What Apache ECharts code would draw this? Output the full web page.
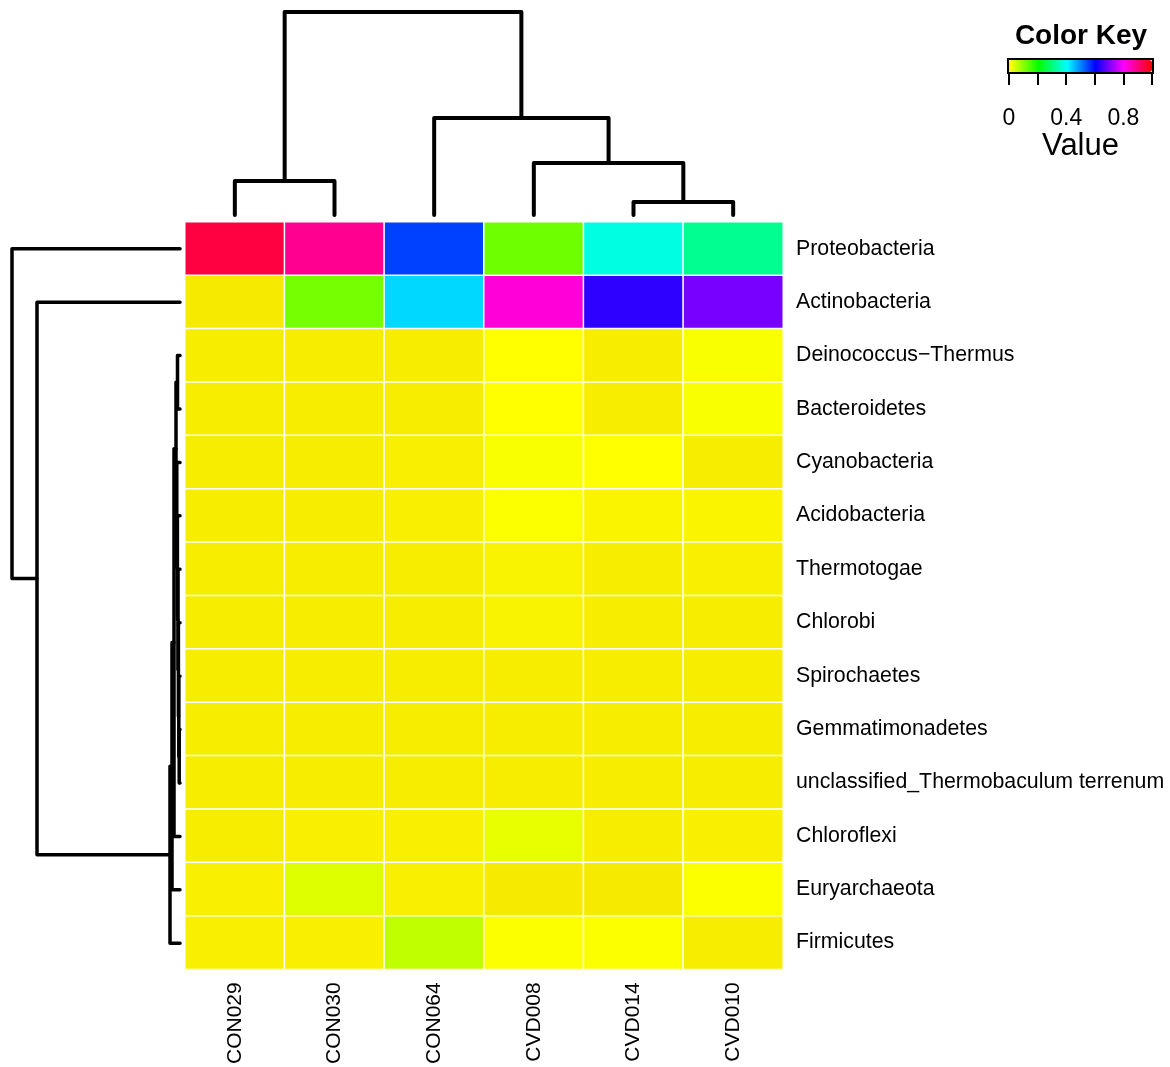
<!DOCTYPE html>
<html><head><meta charset="utf-8">
<script src="https://cdn.jsdelivr.net/npm/echarts@6/dist/echarts.min.js"></script>
<style>html,body{margin:0;padding:0;background:#fff}#c{width:1170px;height:1067px}</style>
</head><body><div id="c"></div>
<script>
// ---------- data ----------
const samples = ['CON029', 'CON030', 'CON064', 'CVD008', 'CVD014', 'CVD010'];
const phyla = ['Proteobacteria', 'Actinobacteria', 'Deinococcus\u2212Thermus', 'Bacteroidetes',
  'Cyanobacteria', 'Acidobacteria', 'Thermotogae', 'Chlorobi', 'Spirochaetes', 'Gemmatimonadetes',
  'unclassified_Thermobaculum terrenum', 'Chloroflexi', 'Euryarchaeota', 'Firmicutes'];

// one array per sample, values in phyla order
const CON029 = [0.950, 0.001, 0.002, 0.002, 0.002, 0.002, 0.002, 0.002, 0.002, 0.002, 0.002, 0.002, 0.003, 0.003];
const CON030 = [0.888, 0.116, 0.002, 0.002, 0.002, 0.002, 0.002, 0.002, 0.002, 0.002, 0.002, 0.003, 0.036, 0.003];
const CON064 = [0.554, 0.436, 0.002, 0.002, 0.003, 0.003, 0.002, 0.002, 0.002, 0.002, 0.002, 0.003, 0.003, 0.059];
const CVD008 = [0.122, 0.832, 0.010, 0.010, 0.014, 0.012, 0.004, 0.004, 0.002, 0.002, 0.002, 0.028, 0.001, 0.012];
const CVD014 = [0.383, 0.640, 0.002, 0.002, 0.010, 0.005, 0.002, 0.002, 0.002, 0.002, 0.002, 0.002, 0.001, 0.012];
const CVD010 = [0.320, 0.696, 0.014, 0.014, 0.002, 0.005, 0.003, 0.002, 0.002, 0.002, 0.002, 0.003, 0.012, 0.002];
const sampleValues = [CON029, CON030, CON064, CVD008, CVD014, CVD010];

// column dendrogram (hclust-style merge: negative = leaf in display order, positive = earlier merge)
const colMerge = [[-1, -2, 0.34], [-5, -6, 0.13], [-4, 2, 0.52], [-3, 3, 0.97], [1, 4, 2.03]];
// row dendrogram
const rowMerge = [
  [-3, -4, 0.025], [-10, -11, 0.008], [-9, 2, 0.012], [-8, 3, 0.016], [-7, 4, 0.020],
  [-6, 5, 0.026], [-5, 6, 0.032], [1, 7, 0.040], [8, -12, 0.060], [9, -13, 0.080],
  [10, -14, 0.100], [-2, 11, 1.43], [-1, 12, 1.68]
];

// colour key
const keyMin = 0, keyMax = 1, keyStep = 0.2;
const keyTickLabels = ['0', '', '0.4', '', '0.8', ''];

// ---------- helpers ----------
function hsvHex(h, s, v) {
  h = ((h % 360) + 360) % 360;
  const c = v * s, x = c * (1 - Math.abs((h / 60) % 2 - 1)), m = v - c;
  let r, g, b;
  if (h < 60) [r, g, b] = [c, x, 0];
  else if (h < 120) [r, g, b] = [x, c, 0];
  else if (h < 180) [r, g, b] = [0, c, x];
  else if (h < 240) [r, g, b] = [0, x, c];
  else if (h < 300) [r, g, b] = [x, 0, c];
  else [r, g, b] = [c, 0, x];
  const to = t => Math.round((t + m) * 255).toString(16).padStart(2, '0');
  return '#' + to(r) + to(g) + to(b);
}
const palette = [];
for (let i = 0; i <= 100; i++) {
  const t = i / 100;
  palette.push(hsvHex(57 + 303 * t, 1, i === 0 ? 0.96 : 1));
}

function dendro(merge, horizontal) {
  const pos = [], hgt = [], segs = [];
  merge.forEach(([a, b, h]) => {
    const pa = a < 0 ? -a - 1 : pos[a - 1], ha = a < 0 ? 0 : hgt[a - 1];
    const pb = b < 0 ? -b - 1 : pos[b - 1], hb = b < 0 ? 0 : hgt[b - 1];
    pos.push((pa + pb) / 2); hgt.push(h);
    const pts = [[pa, ha], [pa, h], [pb, h], [pb, hb]];
    segs.push({ coords: horizontal ? pts : pts.map(p => [p[1], p[0]]) });
  });
  return { segs, max: Math.max(...hgt) };
}
const colD = dendro(colMerge, true);
const rowD = dendro(rowMerge, false);

const heatData = [];
sampleValues.forEach((arr, ci) => arr.forEach((v, ri) => heatData.push([ci, ri, v])));

const FONT = '"Liberation Sans", Arial, sans-serif';
const chart = echarts.init(document.getElementById('c'), null, { renderer: 'canvas' });
chart.setOption({
  animation: false,
  backgroundColor: '#fff',
  textStyle: { fontFamily: FONT },
  grid: [
    { left: 185, top: 222, width: 598, height: 748 },
    { left: 185, top: 12, width: 598, height: 203 },
    { left: 12, top: 222, width: 168, height: 748 },
    { left: 1009, top: 60, width: 143, height: 12 }
  ],
  xAxis: [
    { gridIndex: 0, type: 'category', data: samples, position: 'bottom',
      axisLine: { show: false }, axisTick: { show: false }, splitLine: { show: false },
      axisLabel: { rotate: 90, margin: 13, fontSize: 21, color: '#000', fontFamily: FONT } },
    { gridIndex: 1, type: 'value', min: -0.5, max: samples.length - 0.5, show: false },
    { gridIndex: 2, type: 'value', min: 0, max: rowD.max, inverse: true, show: false },
    { gridIndex: 3, type: 'value', min: keyMin, max: keyMax, interval: keyStep,
      axisLine: { show: false }, splitLine: { show: false },
      axisTick: { show: true, length: 13, lineStyle: { color: '#000', width: 2 } },
      axisLabel: { margin: 35, fontSize: 23, color: '#000', fontFamily: FONT, showMinLabel: true, showMaxLabel: true,
        formatter: (v, i) => keyTickLabels[i] },
      name: 'Value', nameLocation: 'middle', nameGap: 55,
      nameTextStyle: { fontSize: 31, color: '#000', fontFamily: FONT } }
  ],
  yAxis: [
    { gridIndex: 0, type: 'category', data: phyla, inverse: true, position: 'right',
      axisLine: { show: false }, axisTick: { show: false }, splitLine: { show: false },
      axisLabel: { margin: 13, fontSize: 21.3, color: '#000', fontFamily: FONT, align: 'left', padding: [4, 0, 0, 0] } },
    { gridIndex: 1, type: 'value', min: 0, max: colD.max, show: false },
    { gridIndex: 2, type: 'value', min: -0.5, max: phyla.length - 0.5, inverse: true, show: false },
    { gridIndex: 3, type: 'value', min: 0, max: 1, show: false }
  ],
  visualMap: {
    type: 'continuous', seriesIndex: 0, min: keyMin, max: keyMax,
    orient: 'horizontal', left: 1009, top: 60, itemWidth: 12, itemHeight: 143,
    calculable: false, text: null, showLabel: false, padding: 0, hoverLink: false,
    inRange: { color: palette }
  },
  graphic: [
    { type: 'rect', z: 100, shape: { x: 1008, y: 59, width: 145, height: 14 },
      style: { fill: 'none', stroke: '#000', lineWidth: 2 } },
    { type: 'text', z: 100, x: 1081, y: 36,
      style: { text: 'Color Key', font: 'bold 28px ' + FONT, fill: '#000', textAlign: 'center', textVerticalAlign: 'middle' } }
  ],
  series: [
    { type: 'heatmap', xAxisIndex: 0, yAxisIndex: 0, data: heatData,
      itemStyle: { borderColor: '#fff', borderWidth: 1.5 }, emphasis: { disabled: true }, silent: true },
    { type: 'lines', coordinateSystem: 'cartesian2d', xAxisIndex: 1, yAxisIndex: 1, polyline: true, clip: false,
      data: colD.segs, silent: true,
      lineStyle: { color: '#000', width: 4, opacity: 1, cap: 'round', join: 'round' } },
    { type: 'lines', coordinateSystem: 'cartesian2d', xAxisIndex: 2, yAxisIndex: 2, polyline: true, clip: false,
      data: rowD.segs, silent: true,
      lineStyle: { color: '#000', width: 3.5, opacity: 1, cap: 'round', join: 'round' } }
  ]
});
</script></body></html>
